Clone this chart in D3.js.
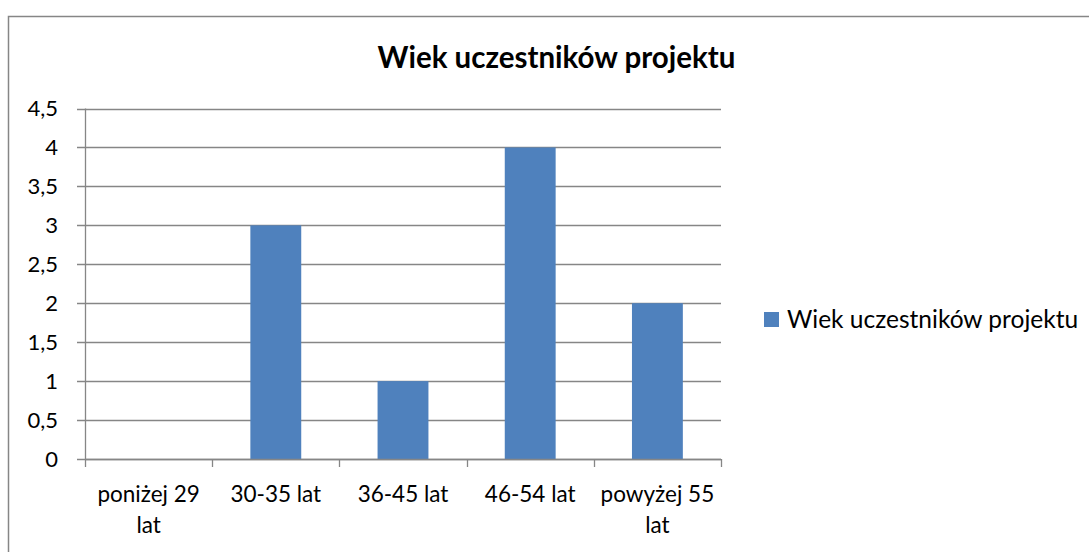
<!DOCTYPE html>
<html><head><meta charset="utf-8">
<script src="https://cdn.jsdelivr.net/npm/d3@7"></script>
<style>body{margin:0;background:#fff}svg{display:block}text{font-family:Lato,"Open Sans",sans-serif;fill:#000}</style>
</head><body><svg id="c" width="1089" height="552"></svg>
<script>
const categories = [["poniżej 29","lat"],["30-35 lat"],["36-45 lat"],["46-54 lat"],["powyżej 55","lat"]];
const values = [0,3,1,4,2];
const yTicks = [0,0.5,1,1.5,2,2.5,3,3.5,4,4.5];
const title = "Wiek uczestników projektu";
const seriesName = "Wiek uczestników projektu";

const svg = d3.select("#c");
svg.append("rect").attr("x",8.5).attr("y",16.5).attr("width",1200).attr("height",600)
  .attr("fill","#fff").attr("stroke","#868686").attr("stroke-width",1.5);

const x = d3.scaleBand().domain(d3.range(categories.length)).range([85,721]).paddingInner(0.6).paddingOuter(0.3);
const y = d3.scaleLinear().domain([0,4.5]).range([459,108.5]);

// gridlines
svg.append("g").selectAll("line").data(yTicks).join("line")
  .attr("x1",77).attr("x2",721).attr("y1",d=>Math.round(y(d))+0.5).attr("y2",d=>Math.round(y(d))+0.5)
  .attr("stroke","#868686").attr("stroke-width",1.3);
// y labels
svg.append("g").selectAll("text").data(yTicks).join("text")
  .attr("x",58).attr("y",d=>y(d)).attr("dy","0.36em").attr("text-anchor","end")
  .attr("font-size",22).text(d=>String(d).replace(".",","));
// y axis line
svg.append("line").attr("x1",85.5).attr("x2",85.5).attr("y1",108.5).attr("y2",459.5).attr("stroke","#868686").attr("stroke-width",1.3);
// bars
svg.append("g").selectAll("rect").data(values).join("rect")
  .attr("x",(d,i)=>x(i)).attr("width",x.bandwidth()).attr("y",d=>y(d)).attr("height",d=>y(0)-y(d))
  .attr("fill","#4F81BD");
// x axis line and ticks
const step = (721-85)/categories.length;
svg.append("line").attr("x1",85).attr("x2",721).attr("y1",459.5).attr("y2",459.5).attr("stroke","#868686").attr("stroke-width",1.3);
svg.append("g").selectAll("line").data(d3.range(categories.length+1)).join("line")
  .attr("x1",i=>Math.round(85+i*step)+0.5).attr("x2",i=>Math.round(85+i*step)+0.5).attr("y1",459).attr("y2",467)
  .attr("stroke","#868686").attr("stroke-width",1.3);
// x labels
const xl = svg.append("g").selectAll("text").data(categories).join("text")
  .attr("text-anchor","middle").attr("font-size",22.5)
  .attr("transform",(d,i)=>`translate(${x(i)+x.bandwidth()/2},0)`);
xl.selectAll("tspan").data(d=>d).join("tspan").attr("x",0).attr("y",(d,j)=>502+j*31).text(d=>d);
// title
svg.append("text").attr("x",556.5).attr("y",68).attr("text-anchor","middle").attr("font-size",29.5).attr("font-weight","bold").text(title);
// legend
svg.append("rect").attr("x",764).attr("y",312).attr("width",15).attr("height",15).attr("fill","#4F81BD");
svg.append("text").attr("x",787).attr("y",328).attr("font-size",24.5).text(seriesName);
</script></body></html>
